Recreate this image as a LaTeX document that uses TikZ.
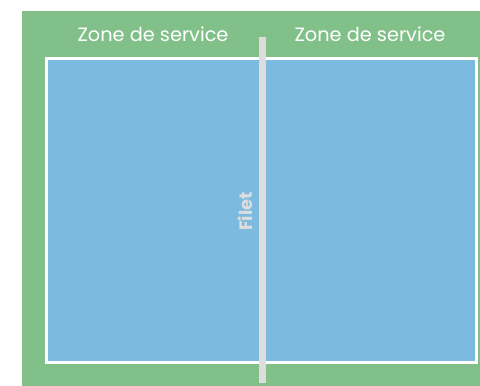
\documentclass[tikz,border=0pt]{standalone}
\usepackage{fontspec}
\setmainfont{Poppins}
\definecolor{courtgreen}{RGB}{129,193,137}
\definecolor{courtblue}{RGB}{124,186,223}
\definecolor{netgrey}{RGB}{221,221,221}
\tikzset{zone/.style={text=white, anchor=base, inner sep=0pt, font=\fontsize{19.3}{19.3}\selectfont}}

\begin{document}
\begin{tikzpicture}[x=1pt,y=-1pt]
    \useasboundingbox (0,0) rectangle (480,386);
    \fill[courtgreen] (22,11) rectangle (480,386);
    % terrain
    \draw[white, line width=3pt, fill=courtblue] (46.5,58.5) rectangle (476.5,362.5);
    \coordinate (NetTop) at (262.5,37);
    \coordinate (NetBot) at (262.5,383);
    \draw[netgrey, line width=7pt] (NetTop) -- (NetBot);
    \node[zone] (zoneL) at (153,41) {Zone de service};
    \node[zone] (zoneR) at (370,41) {Zone de service};
    \node[rotate=90, text=netgrey, inner sep=0pt, font=\bfseries\fontsize{18}{18}\selectfont] (filet) at (245.5,211.5) {Filet};
\end{tikzpicture}
\end{document}
